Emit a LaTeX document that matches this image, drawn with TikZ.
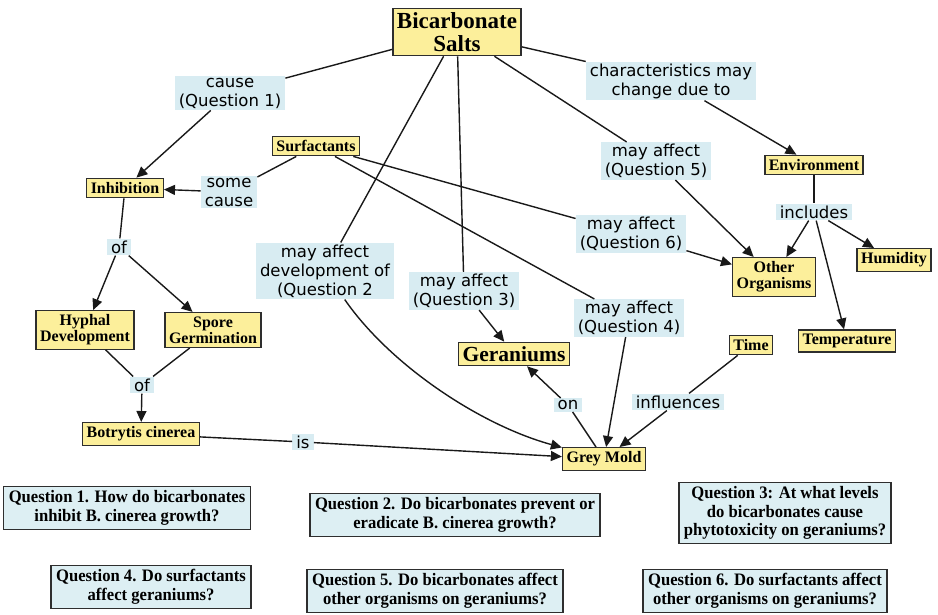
\documentclass[tikz,border=0pt]{standalone}
\usepackage{fontspec}
\setmainfont{Liberation Serif}
\newfontfamily\lblfont{DejaVu Sans}
\newfontfamily\qfont{Liberation Serif}[FakeStretch=0.95]
\usetikzlibrary{arrows.meta}
\definecolor{cyel}{HTML}{FCEF9B}
\definecolor{cblue}{HTML}{D8ECF2}
\definecolor{qblue}{HTML}{DDEFF3}
\definecolor{cedge}{HTML}{2E2E2E}
\begin{document}
\begin{tikzpicture}[x=1pt,y=-1pt,
 concept/.style={draw=cedge, line width=1.4pt, fill=cyel, align=center,
   font=\fontsize{16}{16}\selectfont\bfseries, inner xsep=4pt, inner ysep=4pt},
 lbl/.style={fill=cblue, align=center, font=\lblfont\fontsize{16.5}{19}\selectfont,
   inner xsep=4pt, inner ysep=2pt},
 qbox/.style={draw=cedge, line width=1.4pt, fill=qblue, align=center,
   font=\qfont\fontsize{17.5}{18.5}\selectfont\bfseries, inner xsep=5pt, inner ysep=4pt},
 link/.style={line width=1.4pt, draw=black!90},
 arr/.style={link, -{Triangle[length=11pt,width=10pt]}}
]
\useasboundingbox (0,0) rectangle (938,615);

% concepts
\node[concept, font=\fontsize{23}{23}\selectfont\bfseries] (bic) at (457,32) {Bicarbonate\\Salts};
\node[concept] (sur) at (316,146) {Surfactants};
\node[concept] (inh) at (125,188) {Inhibition};
\node[concept] (env) at (814,165) {Environment};
\node[concept] (hum) at (894,260) {Humidity};
\node[concept] (oth) at (774,277) {Other\\Organisms};
\node[concept] (hyp) at (85,330) {Hyphal\\Development};
\node[concept] (spo) at (213,330) {Spore\\Germination};
\node[concept, font=\fontsize{21.5}{21.5}\selectfont\bfseries] (ger) at (514,354) {Geraniums};
\node[concept] (tim) at (751,345) {Time};
\node[concept] (tem) at (847,341) {Temperature};
\node[concept] (bot) at (141,434) {Botrytis cinerea};
\node[concept] (gm) at (604,459) {Grey Mold};

% link labels
\node[lbl] (lq1) at (230,93) {cause\\(Question 1)};
\node[lbl] (lch) at (671,81) {characteristics may\\change due to};
\node[lbl] (lsc) at (229,192) {some\\cause};
\node[lbl] (lq5) at (656,161) {may affect\\(Question 5)};
\node[lbl] (linc) at (814,212) {includes};
\node[lbl] (lq6) at (631,234) {may affect\\(Question 6)};
\node[lbl] (lof1) at (119,247) {of};
\node[lbl] (lq2) at (325,271) {may affect\\development of\\(Question 2};
\node[lbl] (lq3) at (464,291) {may affect\\(Question 3)};
\node[lbl] (lq4) at (629,318) {may affect\\(Question 4)};
\node[lbl] (lof2) at (142,385) {of};
\node[lbl] (lon) at (568,405) {on};
\node[lbl] (linf) at (678,402) {influences};
\node[lbl] (lis) at (303,442) {is};

% questions
\node[qbox] (q1) at (127,508) {Question 1. How do bicarbonates\\inhibit B. cinerea growth?};
\node[qbox] (q2) at (455,515) {Question 2. Do bicarbonates prevent or\\eradicate B. cinerea growth?};
\node[qbox] (q3) at (785,513) {Question 3: At what levels\\do bicarbonates cause\\phytotoxicity on geraniums?};
\node[qbox] (q4) at (151,587) {Question 4. Do surfactants\\affect geraniums?};
\node[qbox] (q5) at (435,591) {Question 5. Do bicarbonates affect\\other organisms on geraniums?};
\node[qbox] (q6) at (765,591) {Question 6. Do surfactants affect\\other organisms on geraniums?};

% connectors
\draw[link] (bic) -- (lq1);
\draw[arr] (lq1) -- (inh);
\draw[link] (bic) -- (lch);
\draw[arr] (lch) -- (env);
\draw[link] (bic) -- (lq5);
\draw[arr] (lq5) -- (oth);
\draw[link] (bic) -- (lq2);
\draw[arr] (lq2) .. controls (390,365) and (480,425) .. (gm);
\draw[link] (bic) -- (lq3);
\draw[arr] (lq3) -- (ger);
\draw[link] (sur) -- (lsc);
\draw[arr] (lsc) -- (inh);
\draw[link] (sur) -- (lq6);
\draw[arr] (lq6) -- (oth);
\draw[link] (sur) -- (lq4);
\draw[arr] (lq4) -- (gm);
\draw[link] (inh) -- (lof1);
\draw[arr] (lof1) -- (hyp);
\draw[arr] (lof1) -- (spo);
\draw[link] (hyp) -- (lof2);
\draw[link] (spo) -- (lof2);
\draw[arr] (lof2) -- (bot);
\draw[link] (bot) -- (lis);
\draw[arr] (lis) -- (gm);
\draw[link] (gm) -- (lon);
\draw[arr] (lon) -- (ger);
\draw[link] (tim) -- (linf);
\draw[arr] (linf) -- (gm);
\draw[link] (env) -- (linc);
\draw[arr] (linc) -- (oth);
\draw[arr] (linc) -- (hum);
\draw[arr] (linc) -- (tem);
\end{tikzpicture}
\end{document}
